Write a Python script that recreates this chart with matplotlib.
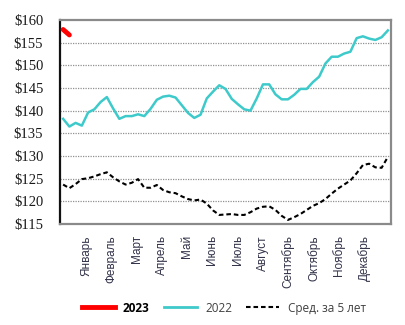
import matplotlib
matplotlib.use("Agg")
import matplotlib.pyplot as plt
from matplotlib.lines import Line2D
import numpy as np

months = ["Январь", "Февраль", "Март", "Апрель", "Май", "Июнь", "Июль",
          "Август", "Сентябрь", "Октябрь", "Ноябрь", "Декабрь"]
y_ticks = [115, 120, 125, 130, 135, 140, 145, 150, 155, 160]

s2023 = [157.9, 156.7]
s2022 = [138.2, 136.5, 137.3, 136.7, 139.6, 140.3, 141.9, 143.0, 140.5, 138.2,
         138.8, 138.8, 139.2, 138.8, 140.4, 142.4, 143.1, 143.3, 142.9, 141.2,
         139.5, 138.4, 139.1, 142.7, 144.2, 145.6, 144.8, 142.6, 141.4, 140.3,
         140.0, 142.7, 145.8, 145.8, 143.6, 142.5, 142.5, 143.5, 144.8, 144.8,
         146.3, 147.5, 150.4, 151.9, 151.9, 152.6, 153.0, 156.0, 156.4, 155.9,
         155.6, 156.2, 157.7]
avg5 = [123.7, 122.9, 123.8, 124.9, 125.1, 125.5, 126.0, 126.4, 125.3, 124.4,
        123.7, 124.1, 124.9, 123.0, 123.0, 123.6, 122.5, 122.0, 121.8, 121.1,
        120.5, 120.2, 120.4, 119.5, 118.0, 117.0, 117.1, 117.2, 117.0, 117.0,
        117.6, 118.4, 118.8, 118.9, 118.1, 116.8, 115.9, 116.5, 117.2, 118.1,
        119.0, 119.6, 120.5, 121.7, 122.8, 123.7, 124.6, 126.2, 128.0, 128.3,
        127.5, 127.4, 129.8]

cyan = "#3ECACA"
fig = plt.figure(figsize=(4.05, 3.25), dpi=100)
ax = fig.add_axes([60/405, 1-224/325, 331/405, 204/325])

x22 = np.arange(len(s2022))
ax.plot(np.arange(len(avg5)), avg5, color="black", lw=1.5, dashes=(2.2, 1.4), zorder=3)
ax.plot(x22, s2022, color=cyan, lw=1.8, zorder=4)
ax.plot(np.arange(len(s2023)), s2023, color="#FF0000", lw=3.5, solid_capstyle="round", zorder=5)

ax.set_xlim(-0.5, len(s2022) - 0.5)
ax.set_ylim(115, 160)
ax.set_yticks(y_ticks)
ax.set_yticklabels([f"${v}" for v in y_ticks], family="Liberation Serif",
                   fontsize=10.5, color="#1a1a1a")
for v in y_ticks[1:-1]:
    ax.axhline(v, color="#909090", lw=0.9, ls=(0, (1, 1)), zorder=1)

xt = [3.66 + 4.05 * i for i in range(len(months))]
ax.set_xticks(xt)
ax.set_xticklabels(months, rotation=90, family="Liberation Sans", fontsize=8.5,
                   color="#33334a", va="top", ha="center")
ax.tick_params(axis="both", length=0)
ax.tick_params(axis="y", pad=12)
ax.tick_params(axis="x", pad=8)

for side in ["top", "right", "bottom"]:
    ax.spines[side].set_color("#8a8a8a")
    ax.spines[side].set_linewidth(1.6)
ax.spines["left"].set_color("#111111")
ax.spines["left"].set_linewidth(1.6)

handles = [Line2D([], [], color="#FF0000", lw=3.5),
           Line2D([], [], color=cyan, lw=2),
           Line2D([], [], color="black", lw=1.5, dashes=(2.2, 1.4))]
leg = fig.legend(handles, ["2023", "2022", "Сред. за 5 лет"], loc="center",
                 bbox_to_anchor=(0.552, 0.052), ncol=3, frameon=False,
                 prop={"family": "Open Sans", "size": 8.5}, handlelength=2.8,
                 columnspacing=1.2, handletextpad=0.7)
texts = leg.get_texts()
texts[0].set_fontweight("bold")
texts[0].set_color("black")
texts[1].set_color("#404040")
texts[2].set_color("#404040")

fig.savefig("out.png", dpi=100)
